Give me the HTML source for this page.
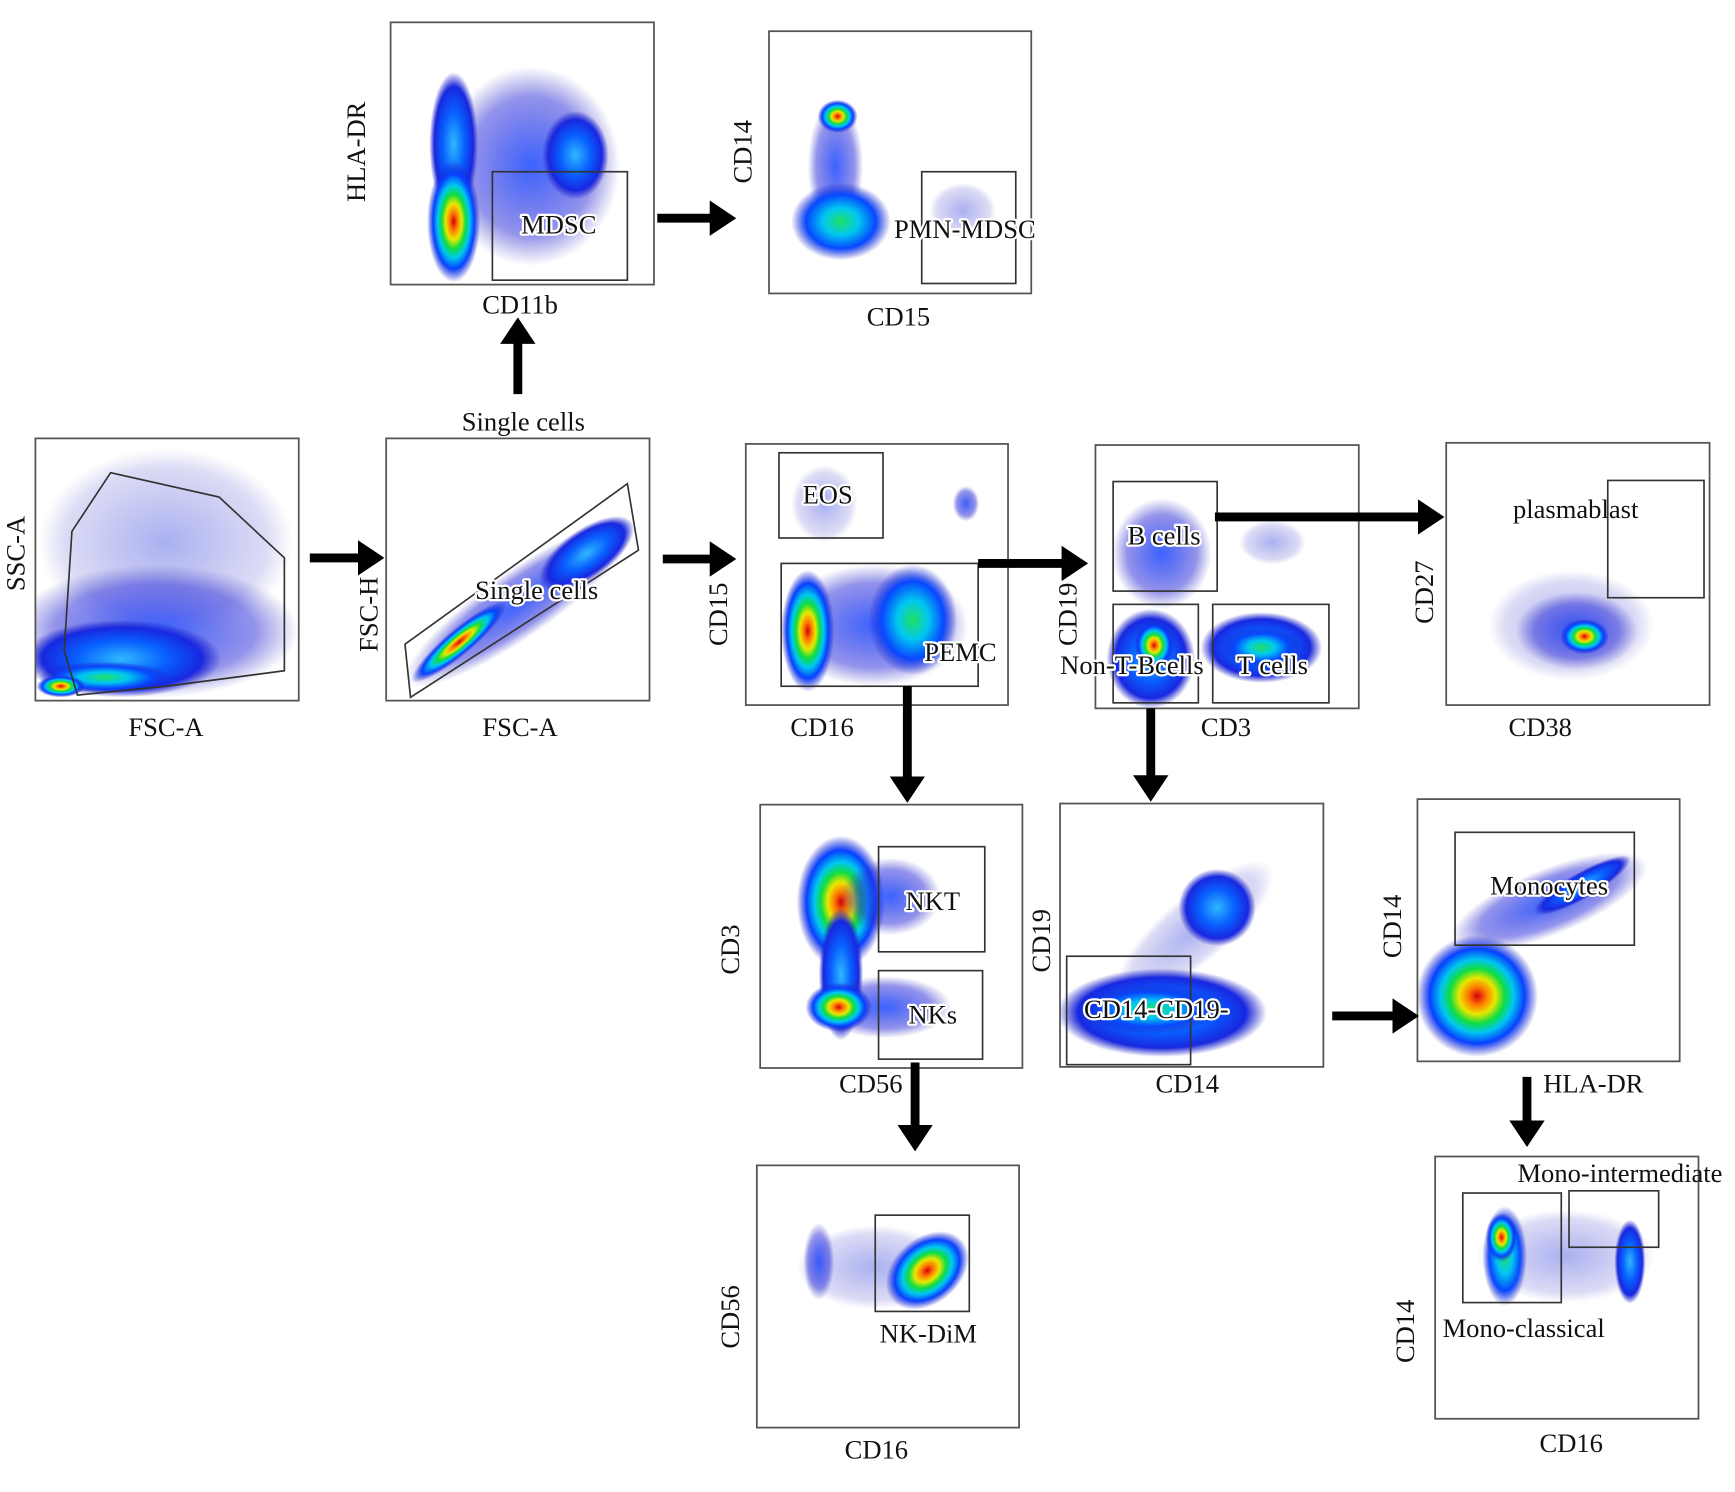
<!DOCTYPE html>
<html><head><meta charset="utf-8"><style>
html,body{margin:0;padding:0;background:#fff}
svg{display:block}
text{font-family:"Liberation Serif",serif;fill:#111}
.ax{font-size:24px}
.lb{font-size:24px;stroke:#fff;stroke-width:4px;paint-order:stroke;stroke-linejoin:round}
.pl{fill:none;stroke:#555;stroke-width:1.6}
.gt{fill:none;stroke:#333;stroke-width:1.5}
</style></head><body>
<svg width="1735" height="1492" viewBox="0 0 1568 1348" xmlns="http://www.w3.org/2000/svg">
<defs>
<radialGradient id="h"><stop offset="0" stop-color="#d00010"/><stop offset=".15" stop-color="#ff7a00"/><stop offset=".3" stop-color="#e8e800"/><stop offset=".45" stop-color="#10dd40"/><stop offset=".6" stop-color="#00c8f0"/><stop offset=".78" stop-color="#0840ff"/><stop offset="1" stop-color="#2020c0" stop-opacity="0"/></radialGradient>
<radialGradient id="g"><stop offset="0" stop-color="#20e060"/><stop offset=".35" stop-color="#00c8f0"/><stop offset=".7" stop-color="#0848ff"/><stop offset="1" stop-color="#2020c0" stop-opacity="0"/></radialGradient>
<radialGradient id="c"><stop offset="0" stop-color="#30b8ff"/><stop offset=".45" stop-color="#0860ff"/><stop offset=".8" stop-color="#1828e0"/><stop offset="1" stop-color="#2020c0" stop-opacity="0"/></radialGradient>
<radialGradient id="b"><stop offset="0" stop-color="#1848ff" stop-opacity=".85"/><stop offset=".7" stop-color="#2828d8" stop-opacity=".5"/><stop offset="1" stop-color="#3030c0" stop-opacity="0"/></radialGradient>
<radialGradient id="s"><stop offset="0" stop-color="#4050e0" stop-opacity=".45"/><stop offset=".8" stop-color="#5050d0" stop-opacity=".2"/><stop offset="1" stop-color="#6060d0" stop-opacity="0"/></radialGradient>
<marker id="ar" markerWidth="4" markerHeight="4" refX="2.2" refY="2" orient="auto" markerUnits="strokeWidth"><path d="M0,0 L3,2 L0,4 Z" fill="#000"/></marker>
<clipPath id="k1"><rect x="32" y="396" width="238" height="237"/></clipPath>
<clipPath id="k2"><rect x="349" y="396" width="238" height="237"/></clipPath>
<clipPath id="k3"><rect x="674" y="401" width="237" height="236"/></clipPath>
<clipPath id="k4"><rect x="990" y="402" width="238" height="238"/></clipPath>
<clipPath id="k5"><rect x="1307" y="400" width="238" height="237"/></clipPath>
<clipPath id="k6"><rect x="353" y="20" width="238" height="237"/></clipPath>
<clipPath id="k7"><rect x="695" y="28" width="237" height="237"/></clipPath>
<clipPath id="k8"><rect x="687" y="727" width="237" height="238"/></clipPath>
<clipPath id="k9"><rect x="958" y="726" width="238" height="238"/></clipPath>
<clipPath id="k10"><rect x="1281" y="722" width="237" height="237"/></clipPath>
<clipPath id="k11"><rect x="684" y="1053" width="237" height="237"/></clipPath>
<clipPath id="k12"><rect x="1297" y="1045" width="238" height="237"/></clipPath>
</defs>

<!-- Plot 1 -->
<g clip-path="url(#k1)">
<ellipse cx="150" cy="490" rx="115" ry="85" fill="url(#s)"/>
<ellipse cx="140" cy="570" rx="130" ry="60" fill="url(#b)"/>
<ellipse cx="110" cy="595" rx="90" ry="35" fill="url(#c)"/>
<ellipse cx="95" cy="612" rx="60" ry="14" fill="url(#g)"/>
<ellipse cx="55" cy="620" rx="22" ry="10" fill="url(#h)"/>
</g>
<rect class="pl" x="32" y="396" width="238" height="237"/>
<polygon class="gt" points="100,427 198,449 257,504 257,606 150,620 70,628 58,588 65,480"/>
<text class="ax" transform="translate(22,500) rotate(-90)" text-anchor="middle">SSC-A</text>
<text class="ax" x="150" y="665" text-anchor="middle">FSC-A</text>

<!-- Plot 2 -->
<g clip-path="url(#k2)">
<ellipse cx="470" cy="545" rx="125" ry="30" transform="rotate(-35 470 545)" fill="url(#b)"/>
<ellipse cx="530" cy="500" rx="50" ry="22" transform="rotate(-35 530 500)" fill="url(#c)"/>
<ellipse cx="415" cy="580" rx="55" ry="12" transform="rotate(-40 415 580)" fill="url(#h)"/>
</g>
<rect class="pl" x="349" y="396" width="238" height="237"/>
<polygon class="gt" points="366,582 567,437 577,497 371,630"/>
<text class="lb" x="485" y="541" text-anchor="middle">Single cells</text>
<text class="ax" x="473" y="389" text-anchor="middle">Single cells</text>
<text class="ax" transform="translate(341,555) rotate(-90)" text-anchor="middle">FSC-H</text>
<text class="ax" x="470" y="665" text-anchor="middle">FSC-A</text>

<!-- Plot 3 -->
<g clip-path="url(#k3)">
<ellipse cx="745" cy="455" rx="30" ry="35" fill="url(#s)"/>
<ellipse cx="873" cy="455" rx="12" ry="16" fill="url(#b)"/>
<ellipse cx="790" cy="565" rx="85" ry="55" fill="url(#b)"/>
<ellipse cx="825" cy="560" rx="40" ry="50" fill="url(#g)"/>
<ellipse cx="730" cy="570" rx="24" ry="55" fill="url(#h)"/>
</g>
<rect class="pl" x="674" y="401" width="237" height="236"/>
<rect class="gt" x="704" y="409" width="94" height="77"/>
<rect class="gt" x="706" y="509" width="178" height="111"/>
<text class="lb" x="748" y="455" text-anchor="middle">EOS</text>
<text class="lb" x="868" y="597" text-anchor="middle">PEMC</text>
<text class="ax" transform="translate(657,555) rotate(-90)" text-anchor="middle">CD15</text>
<text class="ax" x="743" y="665" text-anchor="middle">CD16</text>

<!-- Plot 4 -->
<g clip-path="url(#k4)">
<ellipse cx="1050" cy="500" rx="45" ry="50" fill="url(#b)"/>
<ellipse cx="1150" cy="490" rx="30" ry="20" fill="url(#s)"/>
<ellipse cx="1040" cy="595" rx="40" ry="45" fill="url(#c)"/>
<ellipse cx="1140" cy="585" rx="55" ry="32" fill="url(#c)"/>
<ellipse cx="1140" cy="585" rx="35" ry="18" fill="url(#g)"/>
<ellipse cx="1043" cy="583" rx="18" ry="22" fill="url(#h)"/>
</g>
<rect class="pl" x="990" y="402" width="238" height="238"/>
<rect class="gt" x="1006" y="435" width="94" height="99"/>
<rect class="gt" x="1006" y="546" width="77" height="89"/>
<rect class="gt" x="1096" y="546" width="105" height="89"/>
<text class="lb" x="1052" y="492" text-anchor="middle">B cells</text>
<text class="lb" x="1023" y="609" text-anchor="middle">Non-T-Bcells</text>
<text class="lb" x="1150" y="609" text-anchor="middle">T cells</text>
<text class="ax" transform="translate(973,555) rotate(-90)" text-anchor="middle">CD19</text>
<text class="ax" x="1108" y="665" text-anchor="middle">CD3</text>

<!-- Plot 5 -->
<g clip-path="url(#k5)">
<ellipse cx="1420" cy="565" rx="75" ry="50" fill="url(#s)"/>
<ellipse cx="1425" cy="570" rx="55" ry="35" fill="url(#b)"/>
<ellipse cx="1432" cy="575" rx="22" ry="16" fill="url(#h)"/>
</g>
<rect class="pl" x="1307" y="400" width="238" height="237"/>
<rect class="gt" x="1453" y="434" width="87" height="106"/>
<text class="ax" x="1424" y="468" text-anchor="middle">plasmablast</text>
<text class="ax" transform="translate(1295,535) rotate(-90)" text-anchor="middle">CD27</text>
<text class="ax" x="1392" y="665" text-anchor="middle">CD38</text>

<!-- Plot 6 -->
<g clip-path="url(#k6)">
<ellipse cx="480" cy="150" rx="80" ry="90" fill="url(#b)"/>
<ellipse cx="520" cy="140" rx="30" ry="40" fill="url(#c)"/>
<ellipse cx="410" cy="130" rx="22" ry="65" fill="url(#c)"/>
<ellipse cx="410" cy="200" rx="24" ry="55" fill="url(#h)"/>
</g>
<rect class="pl" x="353" y="20" width="238" height="237"/>
<rect class="gt" x="445" y="155" width="122" height="98"/>
<text class="lb" x="505" y="211" text-anchor="middle">MDSC</text>
<text class="ax" transform="translate(330,137) rotate(-90)" text-anchor="middle">HLA-DR</text>
<text class="ax" x="470" y="283" text-anchor="middle">CD11b</text>

<!-- Plot 7 -->
<g clip-path="url(#k7)">
<ellipse cx="755" cy="150" rx="25" ry="60" fill="url(#b)"/>
<ellipse cx="760" cy="200" rx="45" ry="35" fill="url(#g)"/>
<ellipse cx="757" cy="105" rx="18" ry="15" fill="url(#h)"/>
<ellipse cx="870" cy="190" rx="30" ry="25" fill="url(#s)"/>
</g>
<rect class="pl" x="695" y="28" width="237" height="237"/>
<rect class="gt" x="833" y="155" width="85" height="101"/>
<text class="lb" x="872" y="215" text-anchor="middle">PMN-MDSC</text>
<text class="ax" transform="translate(679,137) rotate(-90)" text-anchor="middle">CD14</text>
<text class="ax" x="812" y="294" text-anchor="middle">CD15</text>

<!-- Plot 8 -->
<g clip-path="url(#k8)">
<ellipse cx="760" cy="815" rx="40" ry="60" fill="url(#h)"/>
<ellipse cx="805" cy="810" rx="45" ry="35" fill="url(#b)"/>
<ellipse cx="760" cy="880" rx="20" ry="60" fill="url(#c)"/>
<ellipse cx="800" cy="910" rx="60" ry="28" fill="url(#b)"/>
<ellipse cx="758" cy="910" rx="30" ry="22" fill="url(#h)"/>
</g>
<rect class="pl" x="687" y="727" width="237" height="238"/>
<rect class="gt" x="794" y="765" width="96" height="95"/>
<rect class="gt" x="794" y="877" width="94" height="80"/>
<text class="lb" x="843" y="822" text-anchor="middle">NKT</text>
<text class="lb" x="843" y="925" text-anchor="middle">NKs</text>
<text class="ax" transform="translate(668,858) rotate(-90)" text-anchor="middle">CD3</text>
<text class="ax" x="787" y="987" text-anchor="middle">CD56</text>

<!-- Plot 9 -->
<g clip-path="url(#k9)">
<ellipse cx="1080" cy="840" rx="90" ry="30" transform="rotate(-40 1080 840)" fill="url(#s)"/>
<ellipse cx="1100" cy="820" rx="35" ry="35" fill="url(#c)"/>
<ellipse cx="1050" cy="915" rx="95" ry="40" fill="url(#c)"/>
<ellipse cx="1040" cy="912" rx="60" ry="22" fill="url(#g)"/>
</g>
<rect class="pl" x="958" y="726" width="238" height="238"/>
<rect class="gt" x="964" y="864" width="112" height="98"/>
<text class="lb" x="1045" y="920" text-anchor="middle">CD14-CD19-</text>
<text class="ax" transform="translate(949,850) rotate(-90)" text-anchor="middle">CD19</text>
<text class="ax" x="1073" y="987" text-anchor="middle">CD14</text>

<!-- Plot 10 -->
<g clip-path="url(#k10)">
<ellipse cx="1400" cy="815" rx="95" ry="30" transform="rotate(-22 1400 815)" fill="url(#b)"/>
<ellipse cx="1430" cy="800" rx="50" ry="12" transform="rotate(-30 1430 800)" fill="url(#c)"/>
<ellipse cx="1335" cy="900" rx="55" ry="55" fill="url(#h)"/>
</g>
<rect class="pl" x="1281" y="722" width="237" height="237"/>
<rect class="gt" x="1315" y="752" width="162" height="102"/>
<text class="lb" x="1400" y="808" text-anchor="middle">Monocytes</text>
<text class="ax" transform="translate(1266,837) rotate(-90)" text-anchor="middle">CD14</text>
<text class="ax" x="1440" y="987" text-anchor="middle">HLA-DR</text>

<!-- Plot 11 -->
<g clip-path="url(#k11)">
<ellipse cx="790" cy="1145" rx="70" ry="38" fill="url(#s)"/>
<ellipse cx="740" cy="1140" rx="14" ry="35" fill="url(#b)"/>
<ellipse cx="838" cy="1148" rx="42" ry="30" transform="rotate(-40 838 1148)" fill="url(#h)"/>
</g>
<rect class="pl" x="684" y="1053" width="237" height="237"/>
<rect class="gt" x="791" y="1098" width="85" height="87"/>
<text class="ax" x="839" y="1213" text-anchor="middle">NK-DiM</text>
<text class="ax" transform="translate(668,1190) rotate(-90)" text-anchor="middle">CD56</text>
<text class="ax" x="792" y="1318" text-anchor="middle">CD16</text>

<!-- Plot 12 -->
<g clip-path="url(#k12)">
<ellipse cx="1415" cy="1135" rx="80" ry="42" fill="url(#s)"/>
<ellipse cx="1360" cy="1135" rx="20" ry="45" fill="url(#g)"/>
<ellipse cx="1357" cy="1118" rx="14" ry="22" fill="url(#h)"/>
<ellipse cx="1473" cy="1140" rx="14" ry="38" fill="url(#c)"/>
</g>
<rect class="pl" x="1297" y="1045" width="238" height="237"/>
<rect class="gt" x="1322" y="1078" width="89" height="99"/>
<rect class="gt" x="1418" y="1076" width="81" height="51"/>
<text class="ax" x="1464" y="1068" text-anchor="middle">Mono-intermediate</text>
<text class="ax" x="1377" y="1208" text-anchor="middle">Mono-classical</text>
<text class="ax" transform="translate(1278,1203) rotate(-90)" text-anchor="middle">CD14</text>
<text class="ax" x="1420" y="1312" text-anchor="middle">CD16</text>

<!-- Arrows -->
<g stroke="#000" stroke-width="8" fill="none" marker-end="url(#ar)">
<line x1="280" y1="504" x2="341" y2="504"/>
<line x1="599" y1="505" x2="659" y2="505"/>
<line x1="468" y1="356" x2="468" y2="293"/>
<line x1="594" y1="197" x2="659" y2="197"/>
<line x1="884" y1="509" x2="977" y2="509"/>
<line x1="1098" y1="467" x2="1299" y2="467"/>
<line x1="820" y1="620" x2="820" y2="719"/>
<line x1="1040" y1="640" x2="1040" y2="718"/>
<line x1="827" y1="960" x2="827" y2="1034"/>
<line x1="1204" y1="918" x2="1276" y2="918"/>
<line x1="1380" y1="973" x2="1380" y2="1030"/>
</g>
</svg>
</body></html>
